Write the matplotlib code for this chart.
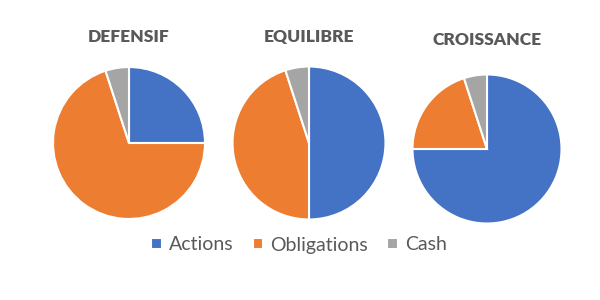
import matplotlib
matplotlib.use('Agg')
import matplotlib.pyplot as plt

labels = ['Actions', 'Obligations', 'Cash']
colors = ['#4472C4', '#ED7D31', '#A5A5A5']
titles = ['DEFENSIF', 'EQUILIBRE', 'CROISSANCE']
defensif = [25, 70, 5]
equilibre = [50, 45, 5]
croissance = [75, 20, 5]
allocations = [defensif, equilibre, croissance]

W, H = 600, 300
fig = plt.figure(figsize=(6, 3), dpi=100)
plt.rcParams['font.family'] = ['Lato', 'DejaVu Sans']

# pie centres and radii in pixels (from top-left)
centres = [(129, 143, 77.5), (309, 143, 78), (487, 149, 76)]
title_y = [37, 37, 40]

wedges_first = None
for i, (vals, (cx, cy, r)) in enumerate(zip(allocations, centres)):
    ax = fig.add_axes([(cx - r) / W, 1 - (cy + r) / H, 2 * r / W, 2 * r / H])
    wedges, _ = ax.pie(vals, colors=colors, startangle=90, counterclock=False,
                       radius=1, wedgeprops=dict(edgecolor='white', linewidth=1.5))
    ax.set_xlim(-1.02, 1.02)
    ax.set_ylim(-1.02, 1.02)
    ax.set_aspect('equal')
    ax.axis('off')
    fig.text(cx / W, 1 - title_y[i] / H, titles[i], ha='center', va='center',
             fontsize=12.5, fontweight='heavy', color='#595959')
    if wedges_first is None:
        wedges_first = wedges

fig.legend(wedges_first, labels, loc='center', bbox_to_anchor=(0.498, 1 - 245 / H),
           ncol=3, frameon=False, fontsize=14, labelcolor='#595959',
           handlelength=0.55, handleheight=0.55, handletextpad=0.35, columnspacing=1.0)

fig.savefig('out.png', dpi=100, facecolor='white')
